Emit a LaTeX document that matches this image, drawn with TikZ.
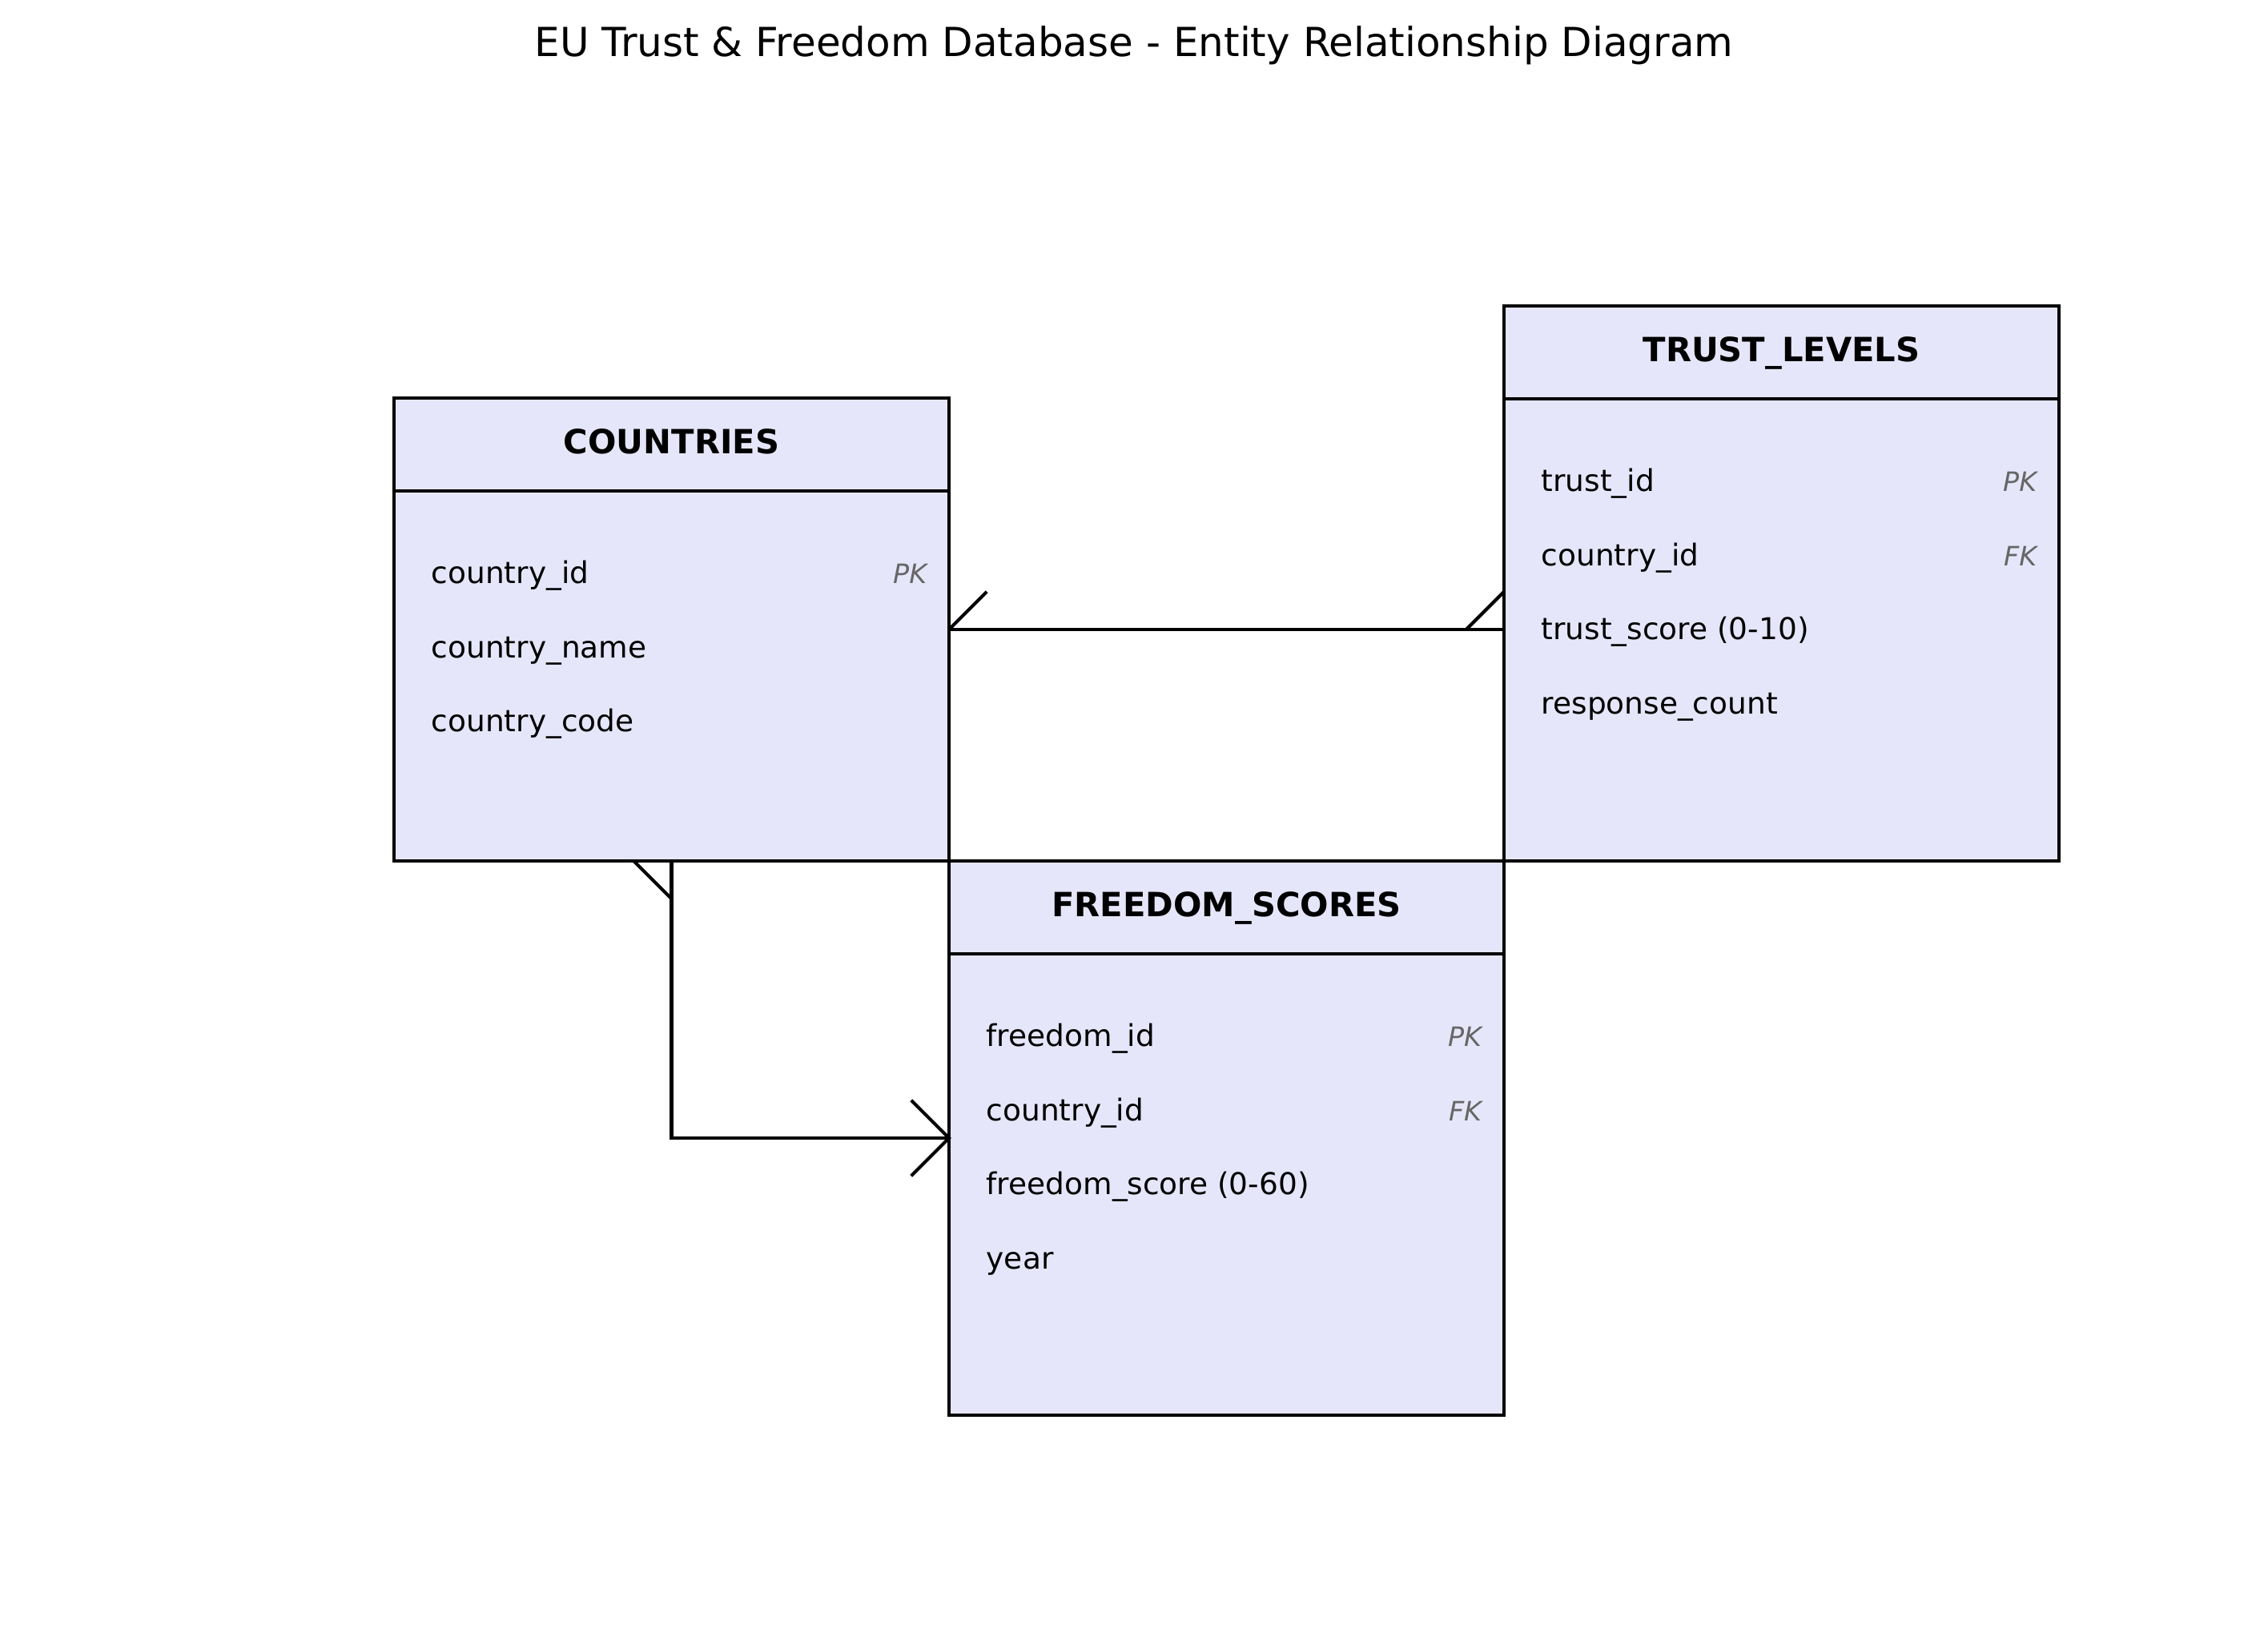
\documentclass[tikz,border=0pt]{standalone}
\usepackage{fontspec}
\setmainfont{DejaVu Sans}
\definecolor{lavendel}{HTML}{E6E6FA}
\definecolor{schluessel}{HTML}{666666}

\begin{document}
\begin{tikzpicture}[
        tabelle/.style={draw, line width=1pt, fill=lavendel, minimum width=5.867cm, inner sep=0pt, outer sep=0pt, anchor=north west},
        kopf/.style={anchor=base, inner sep=0pt, font=\fontsize{10bp}{12bp}\selectfont\bfseries},
        feld/.style={anchor=base west, inner sep=0pt, font=\fontsize{9bp}{11bp}\selectfont},
        schl/.style={anchor=base east, inner sep=0pt, text=schluessel, font=\fontsize{8bp}{10bp}\selectfont\itshape},
        linie/.style={line width=1pt}
    ]
        \def\kopfhoehe{0.982cm}
        \def\zeile{0.783cm}
        \useasboundingbox (0,0) rectangle (23.978,-17.179);
        \node [anchor=base, font=\fontsize{12bp}{14bp}\selectfont] (titel) at (11.99,-0.601) {EU Trust \& Freedom Database - Entity Relationship Diagram};

        % Tabellen
        \node [tabelle, minimum height=4.894cm] (laender) at (4.166,-4.208) {};
        \node [tabelle, minimum height=5.867cm] (vertrauen) at (15.901,-3.234) {};
        \node [tabelle, minimum height=5.859cm] (freiheit) at (10.033,-9.102) {};

        \foreach \tab in {laender, vertrauen, freiheit}
            \draw[linie] ([yshift=-\kopfhoehe]\tab.north west) -- ([yshift=-\kopfhoehe]\tab.north east);

        \node [kopf] (laenderkopf) at ([yshift=-0.59cm]laender.north) {COUNTRIES};
        \node [kopf] (vertrauenkopf) at ([yshift=-0.59cm]vertrauen.north) {TRUST\_LEVELS};
        \node [kopf] (freiheitkopf) at ([yshift=-0.59cm]freiheit.north) {FREEDOM\_SCORES};

        % Felder
        \foreach \nr/\feldname/\schluessel in {1/country\_id/PK, 2/country\_name/, 3/country\_code/}
        {
            \node [feld] (laenderfeld\nr) at ([xshift=0.389cm, yshift=-1.964cm-(\nr-1)*\zeile]laender.north west) {\feldname};
            \node [schl] (laenderschl\nr) at ([xshift=-0.229cm, yshift=-1.964cm-(\nr-1)*\zeile]laender.north east) {\schluessel};
        }
        \foreach \nr/\feldname/\schluessel in {1/trust\_id/PK, 2/country\_id/FK, 3/trust\_score (0-10)/, 4/response\_count/}
        {
            \node [feld] (vertrauenfeld\nr) at ([xshift=0.389cm, yshift=-1.964cm-(\nr-1)*\zeile]vertrauen.north west) {\feldname};
            \node [schl] (vertrauenschl\nr) at ([xshift=-0.229cm, yshift=-1.964cm-(\nr-1)*\zeile]vertrauen.north east) {\schluessel};
        }
        \foreach \nr/\feldname/\schluessel in {1/freedom\_id/PK, 2/country\_id/FK, 3/freedom\_score (0-60)/, 4/year/}
        {
            \node [feld] (freiheitfeld\nr) at ([xshift=0.389cm, yshift=-1.964cm-(\nr-1)*\zeile]freiheit.north west) {\feldname};
            \node [schl] (freiheitschl\nr) at ([xshift=-0.229cm, yshift=-1.964cm-(\nr-1)*\zeile]freiheit.north east) {\schluessel};
        }

        % Beziehungen
        \draw[linie] (laender.east) -- (laender.east -| vertrauen.west);
        \draw[linie] (laender.south) |- (freiheit.west);

        % Striche an den Enden
        \draw[linie] (laender.east) -- ++(0.4,0.4);
        \draw[linie] ([xshift=-0.4cm]laender.east -| vertrauen.west) -- ++(0.4,0.4);
        \draw[linie] ([xshift=-0.4cm]laender.south) -- ++(0.4,-0.4);
        % Kraehenfuss
        \draw[linie] ([shift={(-0.4,0.4)}]freiheit.west) -- (freiheit.west) -- ++(-0.4,-0.4);
\end{tikzpicture}
\end{document}
